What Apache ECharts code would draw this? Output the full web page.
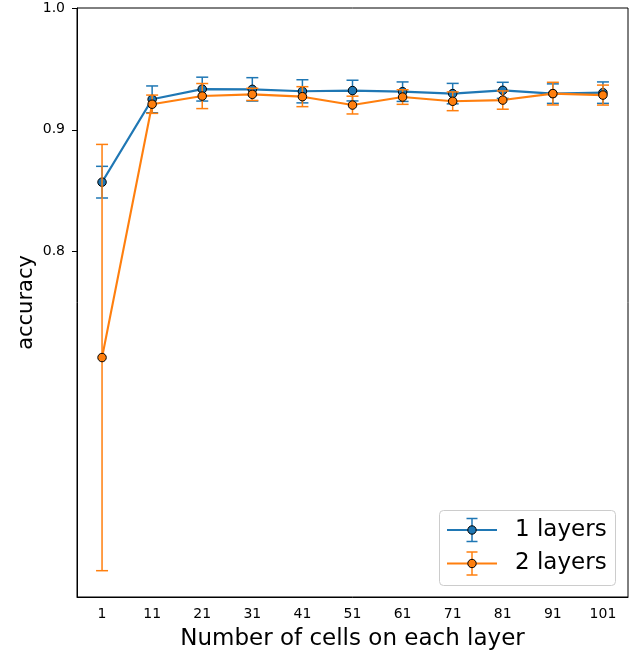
<!DOCTYPE html>
<html>
<head>
<meta charset="utf-8">
<script src="https://cdn.jsdelivr.net/npm/echarts@6/dist/echarts.min.js"></script>
<style>
html,body{margin:0;padding:0;background:#fff;}
#chart{width:643px;height:657px;}
</style>
</head>
<body>
<div id="chart"></div>
<script>
const categories = ['1','11','21','31','41','51','61','71','81','91','101'];
const oneLayer = [0.857, 0.925, 0.9334, 0.9332, 0.9316, 0.9322, 0.9313, 0.9297, 0.9324, 0.9297, 0.9305];
const oneLayerErr = [0.013, 0.011, 0.0098, 0.0096, 0.0095, 0.0085, 0.008, 0.0084, 0.0066, 0.008, 0.0088];
const twoLayers = [0.713, 0.921, 0.9277, 0.9291, 0.9272, 0.9203, 0.9269, 0.9234, 0.9244, 0.9297, 0.9285];
const twoLayersErr = [0.175, 0.0075, 0.0103, 0.005, 0.0082, 0.0073, 0.006, 0.0077, 0.0075, 0.0093, 0.0082];
const yTicks = [0.8, 0.9, 1.0];
const seriesNames = ['1 layers', '2 layers'];

const BLUE = '#1f77b4', ORANGE = '#ff7f0e';
const FONT = 'DejaVu Sans';

function errData(vals, errs) {
  return vals.map((v, i) => [i, v - errs[i], v + errs[i]]);
}
function errRender(color) {
  return function (params, api) {
    const i = api.value(0);
    const lo = api.coord([i, api.value(1)]);
    const hi = api.coord([i, api.value(2)]);
    const hw = 6;
    const st = { stroke: color, lineWidth: 1.5 };
    return {
      type: 'group',
      children: [
        { type: 'line', shape: { x1: lo[0], y1: lo[1], x2: hi[0], y2: hi[1] }, style: st },
        { type: 'line', shape: { x1: lo[0] - hw, y1: lo[1], x2: lo[0] + hw, y2: lo[1] }, style: st },
        { type: 'line', shape: { x1: hi[0] - hw, y1: hi[1], x2: hi[0] + hw, y2: hi[1] }, style: st }
      ]
    };
  };
}

function legendEntry(y, color, label) {
  const st = { stroke: color, lineWidth: 2 };
  return [
    { type: 'line', shape: { x1: 447, y1: y, x2: 497, y2: y }, style: st },
    { type: 'line', shape: { x1: 472, y1: y - 11.5, x2: 472, y2: y + 11.5 }, style: { stroke: color, lineWidth: 1.5 } },
    { type: 'line', shape: { x1: 466.5, y1: y - 11.5, x2: 477.5, y2: y - 11.5 }, style: { stroke: color, lineWidth: 1.5 } },
    { type: 'line', shape: { x1: 466.5, y1: y + 11.5, x2: 477.5, y2: y + 11.5 }, style: { stroke: color, lineWidth: 1.5 } },
    { type: 'circle', shape: { cx: 472, cy: y, r: 4.2 }, style: { fill: color, stroke: '#000', lineWidth: 1 } },
    { type: 'text', x: 515, y: y, style: { text: label, font: '23px "DejaVu Sans"', fill: '#000', textVerticalAlign: 'middle', verticalAlign: 'middle' } }
  ];
}

const chart = echarts.init(document.getElementById('chart'), null, { renderer: 'canvas' });
chart.setOption({
  animation: false,
  backgroundColor: '#fff',
  grid: { left: 77, right: 15, top: 8, bottom: 60, show: true, borderColor: '#000', borderWidth: 1, backgroundColor: 'transparent' },
  xAxis: {
    type: 'category',
    data: categories,
    boundaryGap: true,
    name: 'Number of cells on each layer',
    nameLocation: 'middle',
    nameGap: 31,
    nameMoveOverlap: false,
    nameTextStyle: { fontFamily: FONT, fontSize: 23, color: '#000' },
    axisLine: { lineStyle: { color: '#000', width: 1 } },
    axisTick: { alignWithLabel: true, length: 5, lineStyle: { color: '#000' } },
    axisLabel: { interval: 0, fontFamily: FONT, fontSize: 14, color: '#000', margin: 10 },
    splitLine: { show: false }
  },
  yAxis: {
    type: 'value',
    min: 0.5164,
    max: 1.0,
    name: 'accuracy',
    nameLocation: 'middle',
    nameGap: 40,
    nameMoveOverlap: false,
    nameTextStyle: { fontFamily: FONT, fontSize: 21, color: '#000' },
    axisLine: { show: true, lineStyle: { color: '#000', width: 1 } },
    axisTick: { show: true, length: 5, customValues: yTicks, lineStyle: { color: '#000' } },
    axisLabel: { customValues: yTicks, fontFamily: FONT, fontSize: 14, color: '#000', margin: 12, formatter: v => v.toFixed(1) },
    splitLine: { show: false }
  },
  series: [
    {
      name: seriesNames[0] + ' err', type: 'custom', z: 2,
      renderItem: errRender(BLUE),
      encode: { x: 0, y: [1, 2] },
      data: errData(oneLayer, oneLayerErr)
    },
    {
      name: seriesNames[0], type: 'line', z: 3,
      data: oneLayer,
      symbol: 'circle', symbolSize: 8.5,
      lineStyle: { color: BLUE, width: 2.1 },
      itemStyle: { color: BLUE, borderColor: '#000', borderWidth: 1 }
    },
    {
      name: seriesNames[1] + ' err', type: 'custom', z: 4,
      renderItem: errRender(ORANGE),
      encode: { x: 0, y: [1, 2] },
      data: errData(twoLayers, twoLayersErr)
    },
    {
      name: seriesNames[1], type: 'line', z: 5,
      data: twoLayers,
      symbol: 'circle', symbolSize: 8.5,
      lineStyle: { color: ORANGE, width: 2.1 },
      itemStyle: { color: ORANGE, borderColor: '#000', borderWidth: 1 }
    }
  ],
  graphic: [
    { type: 'rect', z: 100, shape: { x: 439.5, y: 510.5, width: 176, height: 75, r: 4 }, style: { fill: 'rgba(255,255,255,0.8)', stroke: '#cccccc', lineWidth: 1 } },
    ...legendEntry(530, BLUE, seriesNames[0]).map(e => Object.assign(e, { z: 101 })),
    ...legendEntry(563.5, ORANGE, seriesNames[1]).map(e => Object.assign(e, { z: 101 }))
  ]
});
</script>
</body>
</html>
